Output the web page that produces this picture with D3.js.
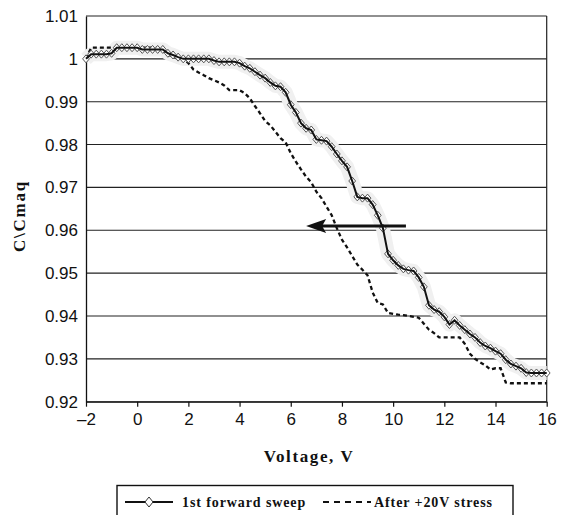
<!DOCTYPE html>
<html><head><meta charset="utf-8">
<script src="https://cdn.jsdelivr.net/npm/d3@7"></script>
<style>
html,body{margin:0;padding:0;background:#fff;}
svg{display:block;}
</style></head>
<body>
<svg id="chart" width="563" height="515"></svg>
<script>
// ---- data ----
const xTicks = [-2, 0, 2, 4, 6, 8, 10, 12, 14, 16];
const xTickLabels = ["\u20132", "0", "2", "4", "6", "8", "10", "12", "14", "16"];
const yTicks = [0.92, 0.93, 0.94, 0.95, 0.96, 0.97, 0.98, 0.99, 1.00, 1.01];
const yTickLabels = ["0.92", "0.93", "0.94", "0.95", "0.96", "0.97", "0.98", "0.99", "1", "1.01"];

const voltage = [-2.0,-1.8,-1.6,-1.4,-1.2,-1.0,-0.8,-0.6,-0.4,-0.2,0.0,0.2,0.4,0.6,0.8,1.0,1.2,1.4,1.6,1.8,
  2.0,2.2,2.4,2.6,2.8,3.0,3.2,3.4,3.6,3.8,4.0,4.2,4.4,4.6,4.8,5.0,5.2,5.4,5.6,5.8,
  6.0,6.2,6.4,6.6,6.8,7.0,7.2,7.4,7.6,7.8,8.0,8.2,8.4,8.6,8.8,9.0,9.2,9.4,9.6,9.8,
  10.0,10.2,10.4,10.6,10.8,11.0,11.2,11.4,11.6,11.8,12.0,12.2,12.4,12.6,12.8,13.0,13.2,13.4,13.6,13.8,
  14.0,14.2,14.4,14.6,14.8,15.0,15.2,15.4,15.6,15.8,16.0];

const forwardSweep = [1.0000,1.0011,1.0011,1.0011,1.0011,1.0013,1.0026,1.0026,1.0026,1.0026,1.0026,1.0022,1.0022,1.0022,1.0022,1.0022,1.0013,1.0009,1.0004,1.0000,
  1.0000,1.0000,1.0000,1.0000,1.0000,0.9996,0.9993,0.9993,0.9993,0.9993,0.9990,0.9983,0.9978,0.9970,0.9962,0.9955,0.9945,0.9937,0.9935,0.9922,
  0.9893,0.9875,0.9850,0.9838,0.9834,0.9812,0.9810,0.9808,0.9795,0.9778,0.9762,0.9748,0.9715,0.9678,0.9675,0.9675,0.9660,0.9635,0.9605,0.9545,
  0.9530,0.9518,0.9510,0.9507,0.9505,0.9490,0.9468,0.9425,0.9415,0.9410,0.9398,0.9380,0.9390,0.9378,0.9368,0.9358,0.9350,0.9338,0.9330,0.9325,
  0.9318,0.9312,0.9298,0.9288,0.9283,0.9278,0.9268,0.9267,0.9267,0.9267,0.9267];

const afterStress = [1.0000,1.0026,1.0026,1.0026,1.0026,1.0026,1.0026,1.0026,1.0026,1.0026,1.0026,1.0026,1.0026,1.0026,1.0026,1.0022,1.0010,1.0005,1.0000,1.0000,
  0.9990,0.9975,0.9968,0.9962,0.9955,0.9950,0.9945,0.9938,0.9927,0.9927,0.9927,0.9920,0.9908,0.9890,0.9873,0.9855,0.9845,0.9830,0.9815,0.9805,
  0.9780,0.9760,0.9742,0.9725,0.9712,0.9690,0.9675,0.9655,0.9635,0.9605,0.9578,0.9560,0.9540,0.9520,0.9508,0.9495,0.9455,0.9430,0.9427,0.9407,
  0.9405,0.9403,0.9402,0.9400,0.9398,0.9396,0.9382,0.9368,0.9360,0.9350,0.9350,0.9350,0.9350,0.9350,0.9335,0.9312,0.9300,0.9292,0.9285,0.9275,
  0.9278,0.9278,0.9245,0.9243,0.9243,0.9243,0.9243,0.9243,0.9243,0.9243,0.9243];

const arrowFrom = [10.5, 0.9610];
const arrowTo = [6.6, 0.9610];

const seriesNames = ["1st forward sweep", "After +20V stress"];
const xTitle = "Voltage, V";
const yTitle = "C\\Cmaq";

// ---- layout ----
const svg = d3.select("#chart");
const L = 86, R = 546.7, T = 16, B = 401.7;
const x = d3.scaleLinear().domain([-2, 16]).range([L, R]);
const y = d3.scaleLinear().domain([0.92, 1.01]).range([B, T]);

// gridlines
svg.append("g").selectAll("line").data(yTicks).join("line")
  .attr("x1", L).attr("x2", R)
  .attr("y1", d => y(d)).attr("y2", d => y(d))
  .attr("stroke", "#222").attr("stroke-width", 1.1);

// right border
svg.append("line").attr("x1", R).attr("x2", R).attr("y1", T).attr("y2", B)
  .attr("stroke", "#222").attr("stroke-width", 1.2);

// y axis
const yAxis = svg.append("g").attr("transform", `translate(${L},0)`)
  .call(d3.axisLeft(y).tickValues(yTicks).tickSize(0).tickPadding(8)
    .tickFormat((d, i) => yTickLabels[i]));
yAxis.select(".domain").attr("stroke", "#111").attr("stroke-width", 1.3);
yAxis.selectAll("text").attr("font-family", "'Liberation Sans', Arial, sans-serif")
  .attr("font-size", 17).attr("fill", "#111");

// x axis
const xAxis = svg.append("g").attr("transform", `translate(0,${B})`)
  .call(d3.axisBottom(x).tickValues(xTicks).tickSize(5).tickSizeOuter(0).tickPadding(6)
    .tickFormat((d, i) => xTickLabels[i]));
xAxis.select(".domain").attr("stroke", "#111").attr("stroke-width", 1.3);
xAxis.selectAll(".tick line").attr("stroke", "#111").attr("stroke-width", 1.2);
xAxis.selectAll("text").attr("font-family", "'Liberation Sans', Arial, sans-serif")
  .attr("font-size", 17).attr("fill", "#111");

// series data
const d1 = voltage.map((v, i) => [v, forwardSweep[i]]);
const d2 = voltage.map((v, i) => [v, afterStress[i]]);
const line = d3.line().x(d => x(d[0])).y(d => y(d[1]));

// faint halo around forward sweep
svg.append("path").datum(d1).attr("d", line)
  .attr("fill", "none").attr("stroke", "#f0f0f0").attr("stroke-width", 14)
  .attr("stroke-linejoin", "round");

// after stress (dashed)
svg.append("path").datum(d2).attr("d", line)
  .attr("fill", "none").attr("stroke", "#111").attr("stroke-width", 2.3)
  .attr("stroke-dasharray", "4,3");

// forward sweep markers
svg.append("g").selectAll("path").data(d1).join("path")
  .attr("d", "M0,-4L3.4,0L0,4L-3.4,0Z")
  .attr("transform", d => `translate(${x(d[0])},${y(d[1])})`)
  .attr("fill", "#fff").attr("stroke", "#555").attr("stroke-width", 1);
// forward sweep line
svg.append("path").datum(d1).attr("d", line)
  .attr("fill", "none").attr("stroke", "#111").attr("stroke-width", 2);

// arrow
const ax1 = x(arrowFrom[0]), ay = y(arrowFrom[1]), ax2 = x(arrowTo[0]);
svg.append("line").attr("x1", ax1).attr("x2", ax2 + 14).attr("y1", ay).attr("y2", ay)
  .attr("stroke", "#111").attr("stroke-width", 2.8);
svg.append("path")
  .attr("d", `M${ax2},${ay}L${ax2 + 20},${ay - 7}L${ax2 + 16},${ay}L${ax2 + 20},${ay + 7}Z`)
  .attr("fill", "#111");

// axis titles
svg.append("text").attr("x", 309).attr("y", 462)
  .attr("text-anchor", "middle")
  .attr("font-family", "'Liberation Serif', 'Times New Roman', serif")
  .attr("font-weight", "bold").attr("font-size", 17).attr("letter-spacing", 1.6)
  .attr("fill", "#111").text(xTitle);

svg.append("text").attr("transform", "translate(25,216) rotate(-90)")
  .attr("text-anchor", "middle")
  .attr("font-family", "'Liberation Serif', 'Times New Roman', serif")
  .attr("font-weight", "bold").attr("font-size", 17).attr("letter-spacing", 1.8)
  .attr("fill", "#111").text(yTitle);

// legend
const lg = svg.append("g");
lg.append("rect").attr("x", 117).attr("y", 485.5).attr("width", 396).attr("height", 40)
  .attr("fill", "#fff").attr("stroke", "#111").attr("stroke-width", 1.4);
lg.append("line").attr("x1", 125).attr("x2", 173).attr("y1", 502).attr("y2", 502)
  .attr("stroke", "#111").attr("stroke-width", 2.2);
lg.append("path").attr("d", "M0,-5L4,0L0,5L-4,0Z").attr("transform", "translate(149,502)")
  .attr("fill", "#fff").attr("stroke", "#333").attr("stroke-width", 1);
lg.append("line").attr("x1", 323).attr("x2", 371).attr("y1", 502).attr("y2", 502)
  .attr("stroke", "#111").attr("stroke-width", 2.2).attr("stroke-dasharray", "6,5");
const legTexts = [[182, seriesNames[0]], [374, seriesNames[1]]];
lg.selectAll("text.lt").data(legTexts).join("text").attr("class", "lt")
  .attr("x", d => d[0]).attr("y", 507)
  .attr("font-family", "'Liberation Serif', 'Times New Roman', serif")
  .attr("font-weight", "bold").attr("font-size", 14).attr("letter-spacing", 0.9)
  .attr("fill", "#111").text(d => d[1]);
</script>
</body></html>
